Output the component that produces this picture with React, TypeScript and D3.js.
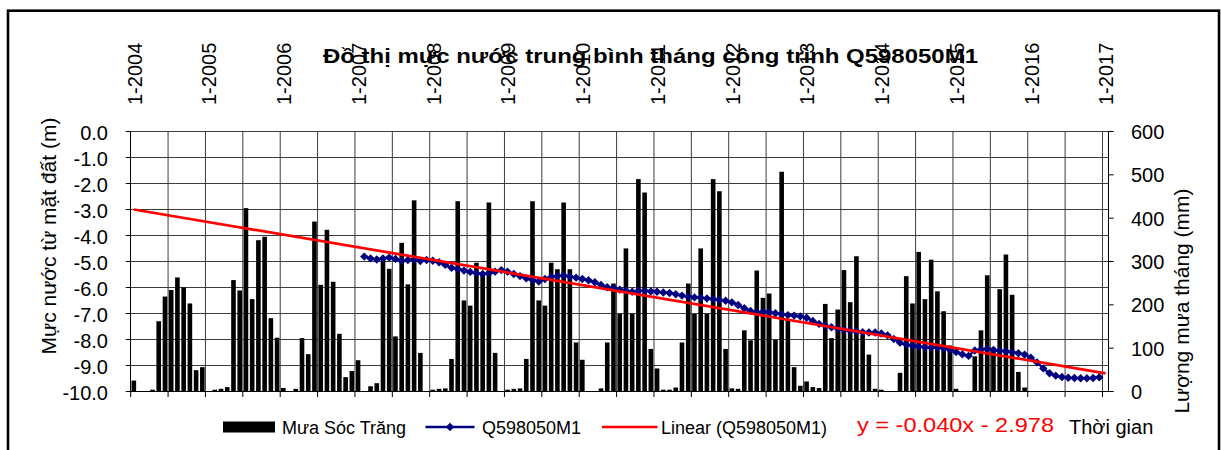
import { useEffect, useRef } from 'react';
import * as d3 from 'd3';

// monthly rainfall, Jan 2004 .. Dec 2015 (mm)
const rainfall = [
  24, 0, 0, 3, 161, 218, 233, 262, 239, 202, 48, 55,
  0, 3, 5, 9, 256, 232, 422, 212, 348, 356, 168, 123,
  7, 0, 5, 122, 85, 391, 245, 372, 252, 132, 32, 46,
  71, 0, 11, 18, 304, 282, 126, 342, 246, 440, 88, 0,
  3, 5, 6, 74, 438, 209, 197, 296, 268, 435, 88, 0,
  3, 5, 6, 74, 438, 209, 197, 296, 281, 435, 281, 112,
  72, 0, 0, 6, 112, 248, 178, 329, 178, 489, 458, 97,
  52, 3, 3, 8, 112, 248, 178, 329, 178, 489, 461, 97,
  6, 5, 140, 117, 278, 215, 225, 118, 506, 165, 55, 12,
  22, 9, 7, 201, 122, 188, 279, 205, 311, 130, 84, 5,
  3, 0, 0, 42, 265, 202, 321, 212, 303, 230, 184, 105,
  5, 0, 0, 80, 140, 267, 100, 235, 315, 222, 44, 8,
];

// well Q598050M1, month index of first value = 37 (Feb 2007)
const waterStart = 37;
const waterLevel = [
  -4.83, -4.90, -4.94, -4.90, -4.87, -4.92, -5.00, -4.96, -4.94, -5.00, -4.96,
  -4.99, -5.05, -5.15, -5.26, -5.31, -5.37, -5.42, -5.47, -5.50, -5.47, -5.41,
  -5.35, -5.41, -5.50, -5.58,
  -5.67, -5.73, -5.79, -5.69, -5.62, -5.58, -5.56, -5.60, -5.64, -5.69,
  -5.74, -5.82, -5.92, -6.01, -6.05, -6.10, -6.14, -6.18, -6.15, -6.14,
  -6.17, -6.18, -6.21, -6.23, -6.28, -6.33, -6.37, -6.40, -6.41, -6.44, -6.46, -6.50,
  -6.53, -6.59, -6.69, -6.82, -6.92, -6.97, -6.95, -6.97, -7.01, -7.05,
  -7.08, -7.10, -7.13, -7.18, -7.31, -7.42, -7.49, -7.55, -7.60, -7.64,
  -7.68, -7.71, -7.74, -7.75, -7.75, -7.79, -7.86, -8.00, -8.14, -8.21, -8.26,
  -8.29, -8.32, -8.33, -8.33, -8.36, -8.41, -8.50, -8.59, -8.65, -8.44,
  -8.40, -8.38, -8.42, -8.45, -8.47, -8.51, -8.55, -8.60, -8.72, -8.90,
  -9.13, -9.32, -9.41, -9.46, -9.49, -9.50, -9.51, -9.51, -9.50, -9.47,
];

const yearLabels = [
  '1-2004', '1-2005', '1-2006', '1-2007', '1-2008', '1-2009', '1-2010',
  '1-2011', '1-2012', '1-2013', '1-2014', '1-2015', '1-2016', '1-2017',
];
const levelTicks = [0, -1, -2, -3, -4, -5, -6, -7, -8, -9, -10];
const rainTicks = [0, 100, 200, 300, 400, 500, 600];
const trend = { slope: -0.0404, intercept: -2.978 };
const trendLabel = 'y = -0.040x - 2.978';
const legendLabels = ['Mưa Sóc Trăng', 'Q598050M1', 'Linear (Q598050M1)'];

const FONT = '"Liberation Sans", Arial, sans-serif';
const N_CAT = 157;

export default function App() {
  const svgRef = useRef<SVGSVGElement>(null);
  const width = 1221;
  const height = 450;

  useEffect(() => {
    if (!svgRef.current) return;
    const svg = d3.select(svgRef.current);
    svg.selectAll('*').remove();

    const left = 130.7, right = 1108.7, top = 131, bottom = 391;

    const x = d3.scaleBand<number>()
      .domain(d3.range(N_CAT))
      .range([left, right])
      .paddingInner(0.26)
      .paddingOuter(0.13);
    const step = x.step();
    const cx = (i: number) => (x(i) || 0) + x.bandwidth() / 2;
    const edge = (i: number) => left + i * step;

    const yLevel = d3.scaleLinear().domain([-10, 0]).range([bottom, top]);
    const yRain = d3.scaleLinear().domain([0, 600]).range([bottom, top]);

    // outer frame
    svg.append('rect')
      .attr('x', 8).attr('y', 10.7)
      .attr('width', 1211).attr('height', 460)
      .attr('fill', 'none').attr('stroke', '#000').attr('stroke-width', 2.6);

    // gridlines
    levelTicks.slice(0, -1).forEach(v => {
      svg.append('line')
        .attr('x1', left).attr('x2', right)
        .attr('y1', yLevel(v) + 0.5).attr('y2', yLevel(v) + 0.5)
        .attr('stroke', '#3c3c3c').attr('stroke-width', 1);
    });
    d3.range(6, N_CAT, 6).forEach(k => {
      svg.append('line')
        .attr('x1', edge(k)).attr('x2', edge(k))
        .attr('y1', top).attr('y2', bottom)
        .attr('stroke', '#3c3c3c').attr('stroke-width', 1);
    });

    // rainfall bars
    svg.append('g')
      .selectAll('rect')
      .data(rainfall)
      .join('rect')
      .attr('x', (_, i) => x(i) || 0)
      .attr('y', d => yRain(d))
      .attr('width', x.bandwidth())
      .attr('height', d => bottom - yRain(d))
      .attr('fill', '#000');

    // axes lines
    svg.append('line').attr('x1', left - 0.2).attr('x2', left - 0.2)
      .attr('y1', top).attr('y2', bottom + 0.5).attr('stroke', '#000');
    svg.append('line').attr('x1', right - 0.2).attr('x2', right - 0.2)
      .attr('y1', top).attr('y2', bottom + 0.5).attr('stroke', '#000');
    svg.append('line').attr('x1', left).attr('x2', right)
      .attr('y1', bottom + 0.5).attr('y2', bottom + 0.5).attr('stroke', '#000');

    // bottom ticks
    d3.range(0, N_CAT, 6).forEach(k => {
      svg.append('line')
        .attr('x1', edge(k)).attr('x2', edge(k))
        .attr('y1', bottom).attr('y2', bottom + 6)
        .attr('stroke', '#000');
    });

    // left axis
    levelTicks.forEach(v => {
      svg.append('line')
        .attr('x1', left - 5).attr('x2', left)
        .attr('y1', yLevel(v) + 0.5).attr('y2', yLevel(v) + 0.5)
        .attr('stroke', '#000');
      svg.append('text')
        .attr('x', 108).attr('y', yLevel(v) + 1.5)
        .attr('text-anchor', 'end')
        .attr('dominant-baseline', 'central')
        .attr('font-family', FONT).attr('font-size', 20)
        .attr('fill', '#000')
        .text(v.toFixed(1));
    });

    // right axis
    rainTicks.forEach(v => {
      svg.append('line')
        .attr('x1', right).attr('x2', right + 5)
        .attr('y1', yRain(v) + 0.5).attr('y2', yRain(v) + 0.5)
        .attr('stroke', '#000');
      svg.append('text')
        .attr('x', 1131).attr('y', yRain(v) + 1)
        .attr('dominant-baseline', 'central')
        .attr('font-family', FONT).attr('font-size', 20)
        .attr('fill', '#000')
        .text(v);
    });

    // top year labels
    yearLabels.forEach((lab, k) => {
      const px = edge(k * 12) + 4;
      svg.append('text')
        .attr('transform', `translate(${px},105) rotate(-90)`)
        .attr('dominant-baseline', 'central')
        .attr('font-family', FONT).attr('font-size', 20)
        .attr('fill', '#000')
        .text(lab);
    });

    // axis titles
    svg.append('text')
      .attr('transform', 'translate(48,236) rotate(-90)')
      .attr('text-anchor', 'middle')
      .attr('dominant-baseline', 'central')
      .attr('font-family', FONT).attr('font-size', 21)
      .attr('fill', '#000')
      .text('Mực nước từ mặt đất (m)');
    svg.append('text')
      .attr('transform', 'translate(1181,301) rotate(-90)')
      .attr('text-anchor', 'middle')
      .attr('dominant-baseline', 'central')
      .attr('font-family', FONT).attr('font-size', 21)
      .attr('fill', '#000')
      .text('Lượng mưa tháng (mm)');

    // water level line
    const pts = waterLevel.map((v, j) => [cx(waterStart + j), yLevel(v)] as [number, number]);
    svg.append('path')
      .attr('d', d3.line()(pts))
      .attr('fill', 'none').attr('stroke', '#000080').attr('stroke-width', 2.4);
    const diamond = 'M0,-4.2L4.2,0L0,4.2L-4.2,0Z';
    svg.append('g')
      .selectAll('path')
      .data(pts)
      .join('path')
      .attr('transform', d => `translate(${d[0]},${d[1]})`)
      .attr('d', diamond)
      .attr('fill', '#000080');

    // linear trend
    const tEnds = [0, N_CAT - 1].map(i => [cx(i), yLevel(trend.slope * (i + 1) + trend.intercept)] as [number, number]);
    svg.append('path')
      .attr('d', d3.line()(tEnds))
      .attr('stroke', '#ff0000').attr('stroke-width', 2.7).attr('fill', 'none');

    // title
    svg.append('text')
      .attr('x', 323).attr('y', 63)
      .attr('font-family', FONT).attr('font-size', 21).attr('font-weight', 'bold')
      .attr('textLength', 655).attr('lengthAdjust', 'spacingAndGlyphs')
      .attr('fill', '#000')
      .text('Đồ thị mực nước trung bình tháng công trình Q598050M1');

    // legend
    const ly = 427;
    svg.append('rect').attr('x', 223).attr('y', 421.5).attr('width', 52).attr('height', 11).attr('fill', '#000');
    svg.append('line').attr('x1', 425.5).attr('x2', 474.5).attr('y1', ly).attr('y2', ly)
      .attr('stroke', '#000080').attr('stroke-width', 2.4);
    svg.append('path').attr('transform', `translate(450,${ly})`).attr('d', diamond).attr('fill', '#000080');
    svg.append('line').attr('x1', 602).attr('x2', 657.5).attr('y1', ly).attr('y2', ly)
      .attr('stroke', '#ff0000').attr('stroke-width', 2.7);
    const legendX = [282, 482, 661];
    legendLabels.forEach((lab, k) => {
      svg.append('text')
        .attr('x', legendX[k]).attr('y', 433.5)
        .attr('font-family', FONT).attr('font-size', 18)
        .attr('fill', '#000')
        .text(lab);
    });
    svg.append('text')
      .attr('x', 857).attr('y', 432)
      .attr('font-family', FONT).attr('font-size', 21)
      .attr('textLength', 197).attr('lengthAdjust', 'spacingAndGlyphs')
      .attr('fill', '#ff0000')
      .text(trendLabel);
    svg.append('text')
      .attr('x', 1069).attr('y', 433.5)
      .attr('font-family', FONT).attr('font-size', 20)
      .attr('fill', '#000')
      .text('Thời gian');
  }, []);

  return (
    <svg
      ref={svgRef}
      width={width}
      height={height}
      style={{ position: 'absolute', left: 0, top: 0, background: '#fff' }}
    />
  );
}
